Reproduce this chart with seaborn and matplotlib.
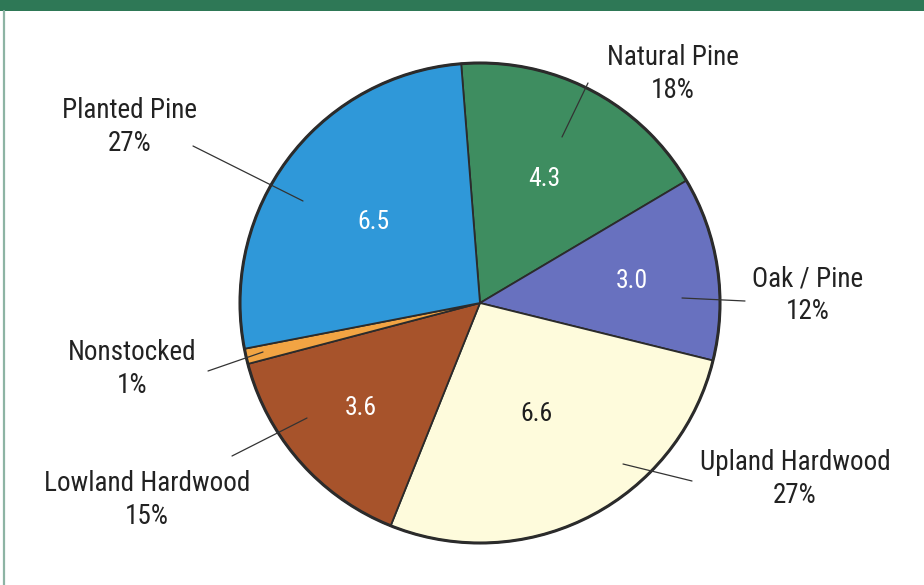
import matplotlib
matplotlib.use("Agg")
import matplotlib.pyplot as plt
from matplotlib import font_manager
import numpy as np
import seaborn as sns

# ---- data ----
categories = ["Natural Pine", "Oak / Pine", "Upland Hardwood",
              "Lowland Hardwood", "Nonstocked", "Planted Pine"]
values = [4.3, 3.0, 6.6, 3.6, 0.25, 6.5]
value_labels = ["4.3", "3.0", "6.6", "3.6", "", "6.5"]
pct_labels = ["18%", "12%", "27%", "15%", "1%", "27%"]

colors = sns.color_palette(["#3e8d60", "#6871bf", "#fefbdc",
                            "#a7532b", "#f2a443", "#2f98d9"])
value_text_colors = ["white", "white", "#1e1e1e", "white", "white", "white"]

sns.set_theme(style="white")
avail = {f.name for f in font_manager.fontManager.ttflist}
fam = next((f for f in ["Liberation Sans Narrow", "Roboto Condensed",
                        "Liberation Sans"] if f in avail), "DejaVu Sans")
plt.rcParams["font.family"] = [fam, "DejaVu Sans"]

W, H = 924, 585
fig = plt.figure(figsize=(W / 100, H / 100), dpi=100)
fig.patch.set_facecolor("white")
ax = fig.add_axes([0, 0, 1, 1])

cx, cy, R = 480, H - 303, 240
wedges, _ = ax.pie(values, colors=colors, startangle=94.5, counterclock=False,
                   radius=R, center=(cx, cy), frame=False,
                   wedgeprops=dict(edgecolor="#2b2b2b", linewidth=1.3))
rim = plt.Circle((cx, cy), R, fill=False, edgecolor="#2b2b2b", linewidth=2.2)
ax.add_patch(rim)

ax.set_xlim(0, W)
ax.set_ylim(0, H)
ax.set_aspect("equal")
ax.axis("off")

# value labels inside slices
radial = [0.58, 0.64, 0.52, 0.66, 0.0, 0.56]
for w, lab, rf, tc in zip(wedges, value_labels, radial, value_text_colors):
    if not lab:
        continue
    mid = np.deg2rad((w.theta1 + w.theta2) / 2)
    ax.text(cx + rf * R * np.cos(mid), cy + rf * R * np.sin(mid), lab,
            ha="center", va="center", fontsize=18.5, color=tc)

# outside labels (pixel layout: text center, leader line start/end)
layout = {
    "Natural Pine": ((673, 74), (588, 83), (562, 137)),
    "Oak / Pine": ((808, 295), (745, 301), (682, 298)),
    "Upland Hardwood": ((795, 479), (692, 481), (623, 464)),
    "Lowland Hardwood": ((147, 500), (232, 456), (307, 418)),
    "Nonstocked": ((132, 369), (208, 371), (263, 352)),
    "Planted Pine": ((130, 127), (193, 146), (303, 201)),
}
for name, pct in zip(categories, pct_labels):
    (tx, ty), (x1, y1), (x2, y2) = layout[name]
    ax.text(tx, H - ty, f"{name}\n{pct}", ha="center", va="center",
            fontsize=19.5, color="#222222", linespacing=1.28)
    ax.plot([x1, x2], [H - y1, H - y2], color="#333333", linewidth=0.9)

# frame decorations: top green band and left border
ax.add_patch(plt.Rectangle((0, H - 11), W, 11, color="#2e7856", lw=0))
ax.plot([3.5, 3.5], [0, H - 11], color="#8db4a4", linewidth=1.6)

fig.savefig("out.png", dpi=100)
